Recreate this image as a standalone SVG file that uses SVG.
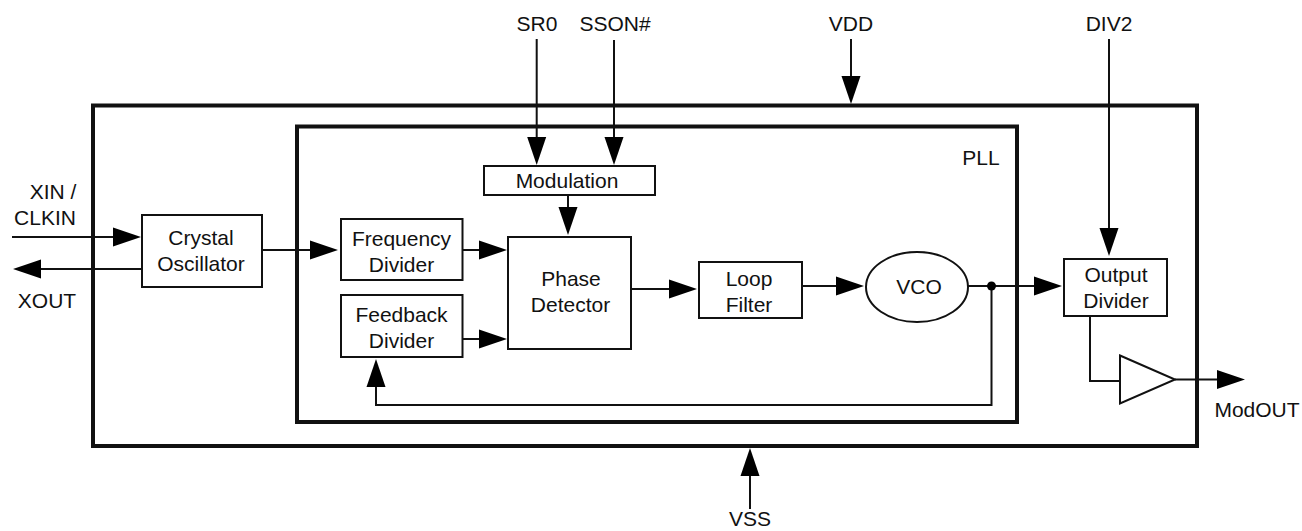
<svg xmlns="http://www.w3.org/2000/svg" width="1302" height="531" viewBox="0 0 1302 531">
<style>
text{font-family:"Liberation Sans",Arial,sans-serif;font-size:21px;fill:#111;text-anchor:middle}
.b{fill:#fff;stroke:#111;stroke-width:2}
.h{fill:none;stroke:#111;stroke-width:4}
.c{fill:none;stroke:#111;stroke-width:2}
.a{fill:#000;stroke:none}
</style>
<defs>
<polygon id="ar" class="a" points="0,0 -28,-9.5 -28,9.5"/>
</defs>
<rect width="1302" height="531" fill="#fff"/>
<g id="chip"><rect class="h" x="93" y="105.5" width="1104" height="340.5"/></g>
<g id="pll"><rect class="h" x="297" y="126.5" width="720" height="295.500"/><text x="981" y="165">PLL</text></g>
<g id="connectors">
<path class="c" d="M12 237H120M141 269H30M262 250H320M462 250H485M462 339H485M631 289H675M802 286H842M968 286H1040M991.5 286V405H376V380M536.7 39V145M614 40V145M851 39V85M568 195V212M1109 39V235M1090 316V381H1120M1175 379.5H1225M750 509V470"/>
<use href="#ar" transform="translate(141 237)"/>
<use href="#ar" transform="translate(13 269) rotate(180)"/>
<use href="#ar" transform="translate(338 250)"/>
<use href="#ar" transform="translate(507 250)"/>
<use href="#ar" transform="translate(507 339)"/>
<use href="#ar" transform="translate(697 289)"/>
<use href="#ar" transform="translate(864 286)"/>
<use href="#ar" transform="translate(1062 286)"/>
<use href="#ar" transform="translate(376 359) rotate(-90)"/>
<use href="#ar" transform="translate(536.7 165) rotate(90)"/>
<use href="#ar" transform="translate(614 165) rotate(90)"/>
<use href="#ar" transform="translate(851 104) rotate(90)"/>
<use href="#ar" transform="translate(568 235) rotate(90)"/>
<use href="#ar" transform="translate(1109 256) rotate(90)"/>
<use href="#ar" transform="translate(1245 379.5)"/>
<use href="#ar" transform="translate(750 448) rotate(-90)"/>
<circle cx="991.5" cy="286" r="4.5" fill="#000"/>
</g>
<g id="crystal"><rect class="b" x="142" y="215" width="120" height="72"/><text x="201" y="245">Crystal</text><text x="201" y="271">Oscillator</text></g>
<g id="freq"><rect class="b" x="341" y="219" width="121.500" height="61"/><text x="401.500" y="246">Frequency</text><text x="401.500" y="272">Divider</text></g>
<g id="feedback"><rect class="b" x="341" y="295" width="121.500" height="62"/><text x="401.500" y="322">Feedback</text><text x="401.500" y="348">Divider</text></g>
<g id="modulation"><rect class="b" x="484" y="166" width="171" height="29"/><text x="567" y="188">Modulation</text></g>
<g id="phase"><rect class="b" x="508" y="237" width="123" height="112"/><text x="571" y="286">Phase</text><text x="570.500" y="312">Detector</text></g>
<g id="loop"><rect class="b" x="699" y="262" width="103" height="56"/><text x="749" y="286">Loop</text><text x="749" y="312">Filter</text></g>
<g id="vco"><ellipse class="b" cx="917" cy="287" rx="51" ry="35"/><text x="919" y="294">VCO</text></g>
<g id="output"><rect class="b" x="1064" y="259" width="103" height="57"/><text x="1116" y="282">Output</text><text x="1116" y="308">Divider</text></g>
<g id="buffer"><polygon class="b" points="1120,355.500 1175,379.500 1120,403.500"/></g>
<g id="labels">
<text x="53" y="199">XIN /</text><text x="45" y="225">CLKIN</text><text x="47" y="308">XOUT</text>
<text x="537" y="31">SR0</text><text x="615" y="31">SSON#</text><text x="851" y="31">VDD</text><text x="1109" y="31">DIV2</text>
<text x="1257" y="417">ModOUT</text><text x="750" y="526">VSS</text>
</g>
</svg>
